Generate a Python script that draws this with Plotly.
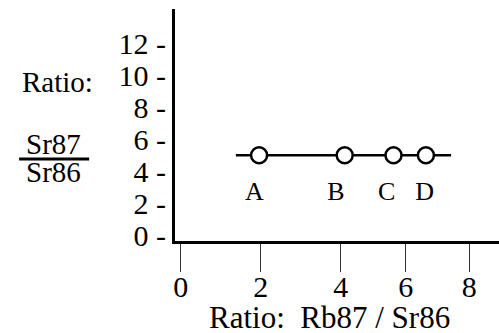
import plotly.graph_objects as go

# Data (x in the drawn axis units; tick labels are placed at the drawn tick positions)
sample_names = ["A", "B", "C", "D"]
sample_x = [1.96, 4.10, 5.32, 6.13]
sample_y = [5, 5, 5, 5]
label_x = [1.84, 3.88, 5.15, 6.10]
label_y = [2.6, 2.6, 2.6, 2.6]
line_x = [1.38, 6.76]
line_y = [5, 5]

x_tickvals = [0, 2, 4, 5.625, 7.215]
x_ticktext = ["0", "2", "4", "6", "8"]
y_tickvals = [0, 2, 4, 6, 8, 10, 12]
y_ticktext = ["0 -", "2 -", "4 -", "6 -", "8 -", "10 -", "12 -"]

FONT = "Liberation Serif"

fig = go.Figure()
fig.add_trace(go.Scatter(x=line_x, y=line_y, mode="lines",
                         line=dict(color="black", width=2.5), hoverinfo="skip"))
fig.add_trace(go.Scatter(x=sample_x, y=sample_y, mode="markers",
                         marker=dict(symbol="circle", size=16, color="white",
                                     line=dict(color="black", width=2.5))))
fig.add_trace(go.Scatter(x=label_x, y=label_y, mode="text", text=sample_names,
                         textfont=dict(family=FONT, size=26, color="black")))

fig.update_layout(
    width=499, height=333,
    margin=dict(l=175, r=0, t=9, b=92),
    paper_bgcolor="white", plot_bgcolor="white",
    showlegend=False,
    font=dict(family=FONT, size=30, color="black"),
    xaxis=dict(range=[-0.1425, 7.9575], tickmode="array", tickvals=x_tickvals,
               ticktext=x_ticktext, ticks="outside", ticklen=28, tickwidth=1,
               tickcolor="#333", showline=True, linecolor="black", linewidth=3,
               showgrid=False, zeroline=False, ticklabelstandoff=-11,
               tickfont=dict(family=FONT, size=30, color="black")),
    yaxis=dict(range=[-0.356, 14.14], tickmode="array", tickvals=y_tickvals,
               ticktext=y_ticktext, ticks="", showline=True, linecolor="black",
               linewidth=3, showgrid=False, zeroline=False, ticklabelstandoff=0,
               tickfont=dict(family=FONT, size=30, color="black")),
    annotations=[
        dict(text="Ratio:&nbsp; Rb87 / Sr86", xref="paper", yref="paper", x=0.477, y=-0.33,
             xanchor="center", yanchor="middle", showarrow=False,
             font=dict(family=FONT, size=31, color="black")),
        dict(text="Ratio:", xref="paper", yref="paper", x=-0.364, y=0.685,
             xanchor="center", yanchor="middle", showarrow=False,
             font=dict(family=FONT, size=29, color="black")),
        dict(text="Sr87", xref="paper", yref="paper", x=-0.3765, y=0.418,
             xanchor="center", yanchor="middle", showarrow=False,
             font=dict(family=FONT, size=29, color="black")),
        dict(text="Sr86", xref="paper", yref="paper", x=-0.3765, y=0.296,
             xanchor="center", yanchor="middle", showarrow=False,
             font=dict(family=FONT, size=29, color="black")),
    ],
    shapes=[dict(type="line", xref="paper", yref="paper", x0=-0.481, x1=-0.265,
                 y0=0.353, y1=0.353, line=dict(color="black", width=3))],
)

fig.write_html("out.html", config={"displayModeBar": False},
               post_script="document.body.style.margin='0';")
